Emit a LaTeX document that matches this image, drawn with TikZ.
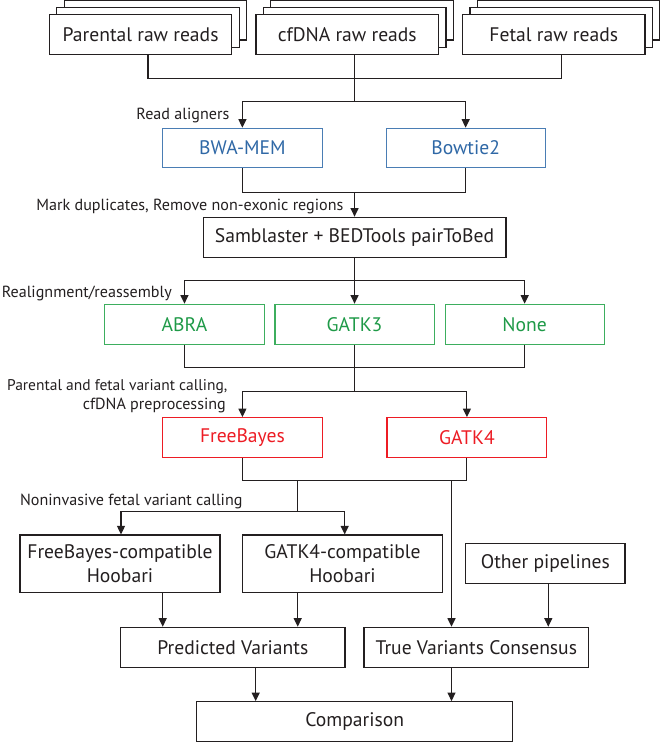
\documentclass[tikz,border=0pt]{standalone}
\usepackage{fontspec}
\setmainfont{PT Sans}
\usetikzlibrary{arrows.meta}
\definecolor{ink}{HTML}{231F20}
\definecolor{bluetxt}{HTML}{2F68A6}
\definecolor{bluebrd}{HTML}{4A7DB4}
\definecolor{greentxt}{HTML}{1F9A48}
\definecolor{greenbrd}{HTML}{3DAE5E}
\definecolor{redc}{HTML}{ED1C24}
\tikzset{
  box/.style={draw=ink, line width=1.2pt, fill=white, inner sep=0pt, minimum height=40pt,
    font=\fontsize{19.6}{24.5}\selectfont, text=ink, align=center},
  bluebox/.style={box, draw=bluebrd, text=bluetxt},
  greenbox/.style={box, draw=greenbrd, text=greentxt},
  redbox/.style={box, draw=redc, text=redc},
  lbl/.style={inner sep=0pt, font=\fontsize{16.1}{19}\selectfont, text=ink},
  conn/.style={draw=ink, line width=1.1pt},
  arr/.style={conn, -{Triangle[width=8pt,length=8.5pt]}},
}
\begin{document}
\begin{tikzpicture}[x=1pt,y=-1pt]
\useasboundingbox (0,0) rectangle (661,743);
% stacked input boxes
\foreach \cx/\nm in {140.6/par,347.25/cf,553.75/fet}{
  \node[box, minimum width=182.5pt, minimum height=40pt] (\nm3) at (\cx+14.8,20.0) {};
  \node[box, minimum width=182.5pt, minimum height=40pt] (\nm2) at (\cx+7.4,27.35) {};
}
\node[box, minimum width=182.5pt] (par) at (140.6,34.7) {Parental raw reads};
\node[box, minimum width=182.5pt] (cf) at (347.25,34.7) {cfDNA raw reads};
\node[box, minimum width=182.5pt] (fet) at (553.75,34.7) {Fetal raw reads};

\node[bluebox, minimum width=160pt, minimum height=39.4pt] (bwa) at (242.4,148) {BWA-MEM};
\node[bluebox, minimum width=159pt, minimum height=39.4pt] (bow) at (465.65,148) {Bowtie2};

\node[box, minimum width=302.7pt, minimum height=40.4pt] (sam) at (354.55,237.5) {Samblaster + BEDTools pairToBed};

\node[greenbox, minimum width=159.7pt, minimum height=40.4pt] (abra) at (184.45,324.5) {ABRA};
\node[greenbox, minimum width=159.3pt, minimum height=40.4pt] (gatk3) at (354.55,324.5) {GATK3};
\node[greenbox, minimum width=158.9pt, minimum height=40.4pt] (none) at (524.65,324.5) {None};

\node[redbox, minimum width=160.2pt, minimum height=39.6pt] (fb) at (242.4,437.5) {FreeBayes};
\node[redbox, minimum width=159.8pt, minimum height=39.6pt] (g4) at (466.9,437.5) {GATK4};

\node[box, minimum width=200pt, minimum height=57.7pt] (fbh) at (120,563.85) {FreeBayes-compatible\\Hoobari};
\node[box, minimum width=199.4pt, minimum height=57.7pt] (g4h) at (342.5,563.85) {GATK4-compatible\\Hoobari};
\node[box, minimum width=159.3pt, minimum height=40.4pt] (oth) at (545.35,563.5) {Other pipelines};

\node[box, minimum width=224.3pt, minimum height=40pt] (pred) at (232.85,647.3) {Predicted Variants};
\node[box, minimum width=224.7pt, minimum height=40pt] (tvc) at (476.35,647.3) {True Variants Consensus};

\node[box, minimum width=316pt, minimum height=40pt] (cmp) at (354.7,721.7) {Comparison};

% labels
\node[lbl, anchor=base east] (l1) at (229.5,120) {Read aligners};
\node[lbl, anchor=base east] (l2) at (343.6,210.7) {Mark duplicates, Remove non-exonic regions};
\node[lbl, anchor=base east] (l3) at (172,297) {Realignment/reassembly};
\node[lbl, anchor=base east, font=\fontsize{15.5}{19}\selectfont] (l4a) at (227.6,390) {Parental and fetal variant calling,};
\node[lbl, anchor=base east] (l4b) at (226,409) {cfDNA preprocessing};
\node[lbl, anchor=base east] (l5) at (242.7,505) {Noninvasive fetal variant calling};

% connectors
\coordinate (t1) at (354.65,78.3);
\coordinate (t2) at (354.65,101.7);
\draw[conn] ([xshift=7.4pt]par.south) |- ([xshift=7.4pt]fet.south |- t1) -- ([xshift=7.4pt]fet.south);
\draw[conn] ([xshift=7.4pt]cf.south) -- (t2);
\draw[arr] (t2) -| (bwa.north);
\draw[arr] (t2) -| (bow.north);

\coordinate (b1) at (354.55,192.3);
\draw[conn] (bwa.south) |- (b1);
\draw[conn] (bow.south) |- (b1);
\draw[arr] (b1) -- (sam.north);

\coordinate (s1) at (354.55,280.7);
\draw[conn] (sam.south) -- (s1);
\draw[arr] (s1) -| (abra.north);
\draw[arr] (s1) -| (none.north);
\draw[arr] (s1) -- (gatk3.north);

\coordinate (r1) at (354.55,367.7);
\coordinate (r2) at (354.55,391.7);
\draw[conn] (abra.south) |- (r1);
\draw[conn] (none.south) |- (r1);
\draw[conn] (gatk3.south) -- (r2);
\draw[arr] (r2) -| (fb.north);
\draw[arr] (r2) -| (g4.north);

\coordinate (v1) at (297.7,480.7);
\coordinate (v2) at (297.7,511.7);
\coordinate (v3) at (451.5,480.7);
\draw[conn] (fb.south) |- (v1);
\draw[conn] (g4.south) |- (v1);
\draw[conn] (v1) -- (v2);
\draw[arr] (v2) -| ([xshift=1pt]fbh.north);
\draw[arr] (v2) -| ([xshift=2.2pt]g4h.north);
\draw[arr] (v3) -- (v3 |- tvc.north);

\coordinate (x1) at (162.7,0);
\coordinate (x2) at (297.7,0);
\coordinate (x3) at (255.7,0);
\coordinate (x4) at (451.5,0);
\coordinate (x5) at (548.3,0);
\draw[arr] (x1 |- fbh.south) -- (x1 |- pred.north);
\draw[arr] (x2 |- g4h.south) -- (x2 |- pred.north);
\draw[arr] (x5 |- oth.south) -- (x5 |- tvc.north);
\draw[arr] (x3 |- pred.south) -- (x3 |- cmp.north);
\draw[arr] (x4 |- tvc.south) -- (x4 |- cmp.north);
\end{tikzpicture}
\end{document}
